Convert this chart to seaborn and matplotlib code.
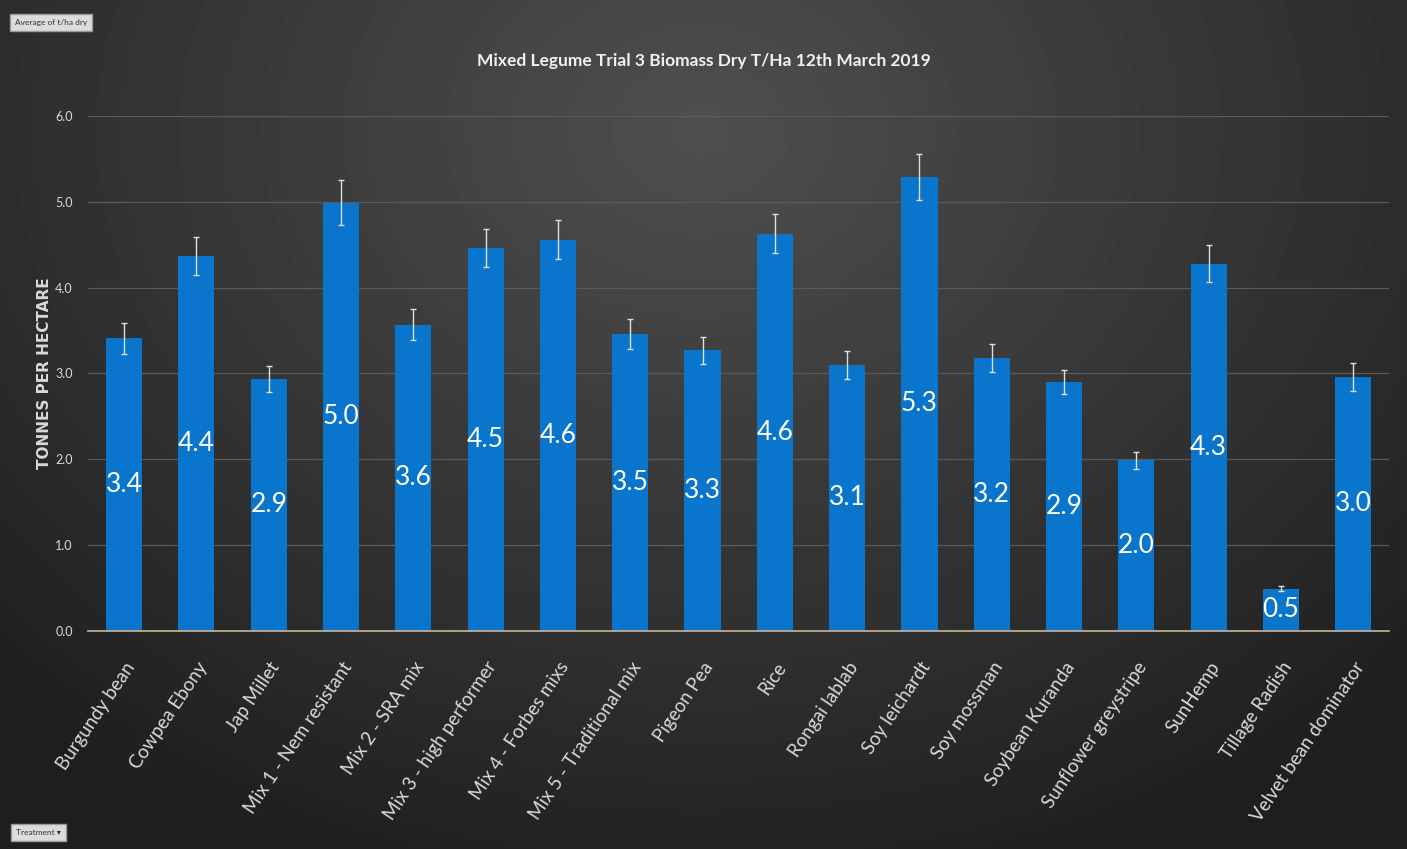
import numpy as np
import pandas as pd
import matplotlib
matplotlib.use("Agg")
import matplotlib.pyplot as plt
import seaborn as sns

# ----------------------------------------------------------
# data
# ----------------------------------------------------------
treatments = ['Burgundy bean', 'Cowpea Ebony', 'Jap Millet', 'Mix 1 - Nem resistant',
              'Mix 2 - SRA mix', 'Mix 3 - high performer', 'Mix 4 - Forbes mixs',
              'Mix 5 - Traditional mix', 'Pigeon Pea', 'Rice', 'Rongai lablab',
              'Soy leichardt', 'Soy mossman', 'Soybean Kuranda', 'Sunflower greystripe',
              'SunHemp', 'Tillage Radish', 'Velvet bean dominator']
biomass = [3.41, 4.37, 2.94, 4.99, 3.57, 4.46, 4.56, 3.46, 3.27, 4.63, 3.10,
           5.29, 3.18, 2.90, 1.99, 4.28, 0.49, 2.96]
err = [0.18, 0.22, 0.15, 0.26, 0.18, 0.22, 0.23, 0.18, 0.16, 0.23, 0.16,
       0.27, 0.16, 0.14, 0.10, 0.22, 0.03, 0.16]

title = 'Mixed Legume Trial 3 Biomass Dry T/Ha 12th March 2019'
ylabel = 'TONNES PER HECTARE'
yticks = [0.0, 1.0, 2.0, 3.0, 4.0, 5.0, 6.0]

# ----------------------------------------------------------
# style
# ----------------------------------------------------------
sns.set_style("dark")
plt.rcParams['font.family'] = ['Lato', 'DejaVu Sans']
bar_col = '#0a75cc'
txt_col = '#d9d9d9'

df = pd.DataFrame({'Treatment': treatments, 'Biomass': biomass, 'err': err})

fig = plt.figure(figsize=(14.07, 8.49), dpi=100)

# radial gradient background
bg = fig.add_axes([0, 0, 1, 1], zorder=-10)
yy, xx = np.mgrid[0:849, 0:1407]
r = np.sqrt(((xx - 700) / 1000.0) ** 2 + ((yy - 130) / 800.0) ** 2)
shade = np.clip(0.31 - 0.19 * r, 0.12, 0.31)
bg.imshow(shade, cmap='gray', vmin=0, vmax=1, aspect='auto', interpolation='bilinear')
bg.axis('off')

ax = fig.add_axes([0.0625, 0.2568, 0.925, 0.6066])
ax.set_facecolor('none')

sns.barplot(data=df, x='Treatment', y='Biomass', color=bar_col, width=0.5,
            saturation=1, errorbar=None, ax=ax, zorder=3, edgecolor='none', linewidth=0)
ax.errorbar(np.arange(len(treatments)), biomass, yerr=err, fmt='none',
            ecolor='#e0e0e0', elinewidth=1.0, capsize=2, capthick=1.0, zorder=4)

for i, v in enumerate(biomass):
    ax.text(i, v / 2, f'{v:.1f}', ha='center', va='center', color='white',
            fontsize=19, zorder=5)

ax.set_ylim(0, 6.0)
ax.set_xlim(-0.5, len(treatments) - 0.5)
ax.set_yticks(yticks)
ax.set_yticklabels([f'{t:.1f}' for t in yticks], color=txt_col, fontsize=9)
ax.set_xticks(np.arange(len(treatments)))
ax.set_xticklabels(treatments, rotation=56, ha='right', rotation_mode='anchor',
                   color=txt_col, fontsize=13.5)
ax.tick_params(length=0)
ax.tick_params(axis='x', pad=20)
ax.tick_params(axis='y', pad=11)
ax.set_xlabel('')
ax.set_ylabel(ylabel, color=txt_col, fontsize=11, fontweight='bold',
              family=['DejaVu Sans'], labelpad=2)
ax.grid(axis='y', color='#5a5a5a', lw=0.9, zorder=0)
ax.grid(axis='x', visible=False)
for s in ['top', 'right', 'left']:
    ax.spines[s].set_visible(False)
ax.spines['bottom'].set_color('#c8b49a')
ax.spines['bottom'].set_linewidth(1.2)
ax.spines['bottom'].set_zorder(6)

fig.text(0.5, 0.928, title, ha='center', va='center', color='#f0f0f0',
         fontsize=12.5, fontweight='bold')

# pivot field buttons
fig.text(0.0105, 0.973, 'Average of t/ha dry', ha='left', va='center', fontsize=6,
         color='#333333', bbox=dict(boxstyle='square,pad=0.6', fc='#dcdcdc', ec='#9a9a9a'))
fig.text(0.0115, 0.0195, 'Treatment \u25be', ha='left', va='center', fontsize=6,
         color='#333333', bbox=dict(boxstyle='square,pad=0.6', fc='#dcdcdc', ec='#9a9a9a'))

plt.savefig('out.png', dpi=100)
